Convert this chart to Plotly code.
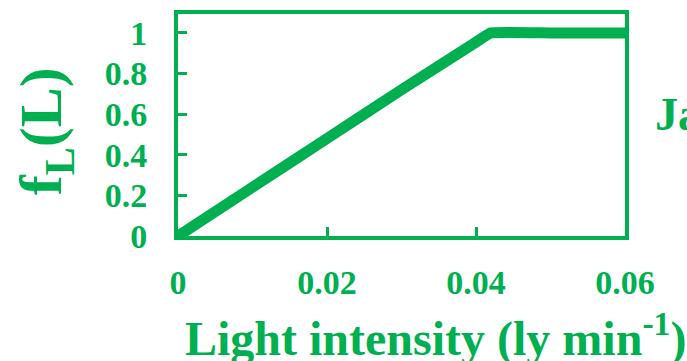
import plotly.graph_objects as go

# Light-limitation function f_L(L) against light intensity
light = [0, 0.01, 0.02, 0.03, 0.04, 0.042, 0.05, 0.06]
f_l = [0, 0.24, 0.48, 0.72, 0.955, 1.0, 1.0, 1.0]

x_ticks = [0, 0.02, 0.04, 0.06]
x_tick_text = ["0", "0.02", "0.04", "0.06"]
y_ticks = [0, 0.2, 0.4, 0.6, 0.8, 1]
y_tick_text = ["0", "0.2", "0.4", "0.6", "0.8", "1"]

GREEN = "#00B050"
FONT = "Liberation Serif"

fig = go.Figure()
fig.add_trace(go.Scatter(
    x=light, y=f_l, mode="lines",
    line=dict(color=GREEN, width=11, shape="spline", smoothing=0.3),
    hoverinfo="skip", showlegend=False,
))

fig.update_layout(
    width=687, height=361,
    margin=dict(l=178, r=62, t=10, b=125),
    paper_bgcolor="white", plot_bgcolor="white",
    font=dict(family=FONT, color=GREEN),
    xaxis=dict(
        range=[0, 0.06], tickvals=x_ticks, ticktext=x_tick_text,
        ticks="inside", ticklen=9, tickwidth=3, tickcolor=GREEN,
        showline=True, linecolor=GREEN, linewidth=4, mirror=True,
        showgrid=False, zeroline=False,
        tickfont=dict(family=FONT, size=34, color=GREEN, weight="bold"),
        ticklabelstandoff=13,
    ),
    yaxis=dict(
        range=[0, 1.093], tickvals=y_ticks, ticktext=y_tick_text,
        ticks="inside", ticklen=9, tickwidth=3, tickcolor=GREEN,
        showline=True, linecolor=GREEN, linewidth=4, mirror=True,
        showgrid=False, zeroline=False,
        tickfont=dict(family=FONT, size=34, color=GREEN, weight="bold"),
        ticklabelstandoff=20,
    ),
    annotations=[
        dict(text="f<sub>L</sub>(L)", xref="paper", yref="paper",
             x=-0.295, y=0.473, xanchor="center", yanchor="middle",
             textangle=-90, showarrow=False,
             font=dict(family=FONT, size=60, color=GREEN, weight="bold")),
        dict(text="Light intensity (ly min<sup>-1</sup>)", xref="paper", yref="paper",
             x=0.577, y=-0.45, xanchor="center", yanchor="middle",
             showarrow=False,
             font=dict(family=FONT, size=48, color=GREEN, weight="bold")),
        dict(text="Jan", xref="paper", yref="paper",
             x=1.062, y=0.549, xanchor="left", yanchor="middle",
             showarrow=False,
             font=dict(family=FONT, size=46, color=GREEN, weight="bold")),
    ],
)

fig.write_html("out.html")
